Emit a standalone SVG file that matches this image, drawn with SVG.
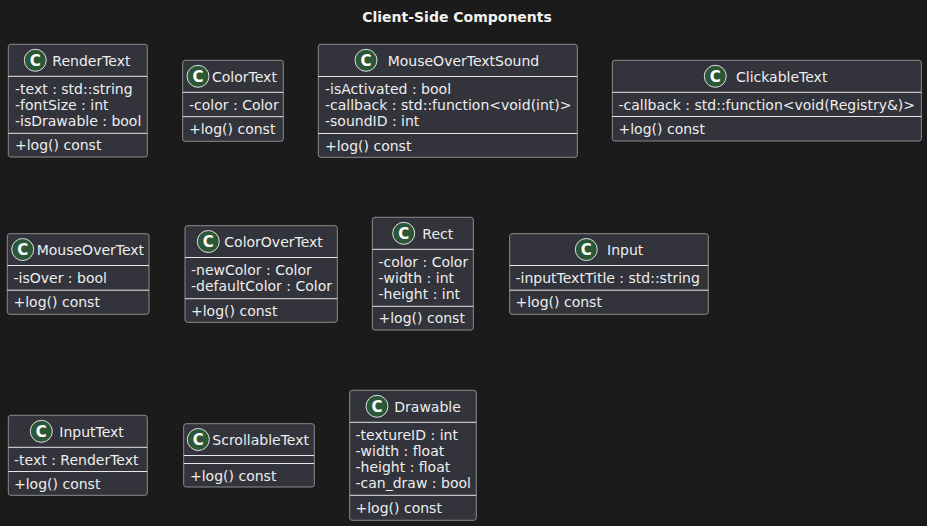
<svg xmlns="http://www.w3.org/2000/svg" width="927" height="526" viewBox="0 0 927 526">
<style>
.bg{fill:#1b1b1b}
.box{fill:#32333b;stroke:#8c8c8c;stroke-width:1}
.sep{stroke:#e8e8e8;stroke-width:1}
.ic{fill:#2b5736;stroke:#e0e0e0;stroke-width:1}
.icl{font-family:"DejaVu Sans","Liberation Sans",sans-serif;font-size:15px;font-weight:bold;fill:#ffffff;text-anchor:middle}
.nm{font-family:"DejaVu Sans","Liberation Sans",sans-serif;font-size:14px;fill:#eeeeee}
.tx{font-family:"DejaVu Sans","Liberation Sans",sans-serif;font-size:14px;fill:#eeeeee}
.ttl{font-family:"DejaVu Sans","Liberation Sans",sans-serif;font-size:14px;font-weight:bold;fill:#f2f2f2;text-anchor:middle}
</style>
<rect class="bg" x="0" y="0" width="927" height="526"/>
<text class="ttl" x="457" y="22.3">Client-Side Components</text>
<g id="connectors"/>

<g id="RenderText">
<rect class="box" x="8.3" y="44.3" width="139" height="112.7" rx="2.5"/>
<line class="sep" x1="8.3" y1="76.3" x2="147.3" y2="76.3"/>
<line class="sep" x1="8.3" y1="133.3" x2="147.3" y2="133.3"/>
<circle class="ic" cx="35.3" cy="60.3" r="11"/><text class="icl" x="35.3" y="65.6">C</text>
<text class="nm" x="52.3" y="65.6">RenderText</text>
<text class="tx" x="15" y="93.5">-text : std::string</text>
<text class="tx" x="15" y="109.8">-fontSize : int</text>
<text class="tx" x="15" y="126.1">-isDrawable : bool</text>
<text class="tx" x="15" y="150.3">+log() const</text>
</g>

<g id="ColorText">
<rect class="box" x="182.7" y="60.3" width="100.6" height="81" rx="2.5"/>
<line class="sep" x1="182.7" y1="92.3" x2="283.3" y2="92.3"/>
<line class="sep" x1="182.7" y1="116.7" x2="283.3" y2="116.7"/>
<circle class="ic" cx="198" cy="76.3" r="11"/><text class="icl" x="198" y="81.6">C</text>
<text class="nm" x="212" y="81.6">ColorText</text>
<text class="tx" x="189" y="109.5">-color : Color</text>
<text class="tx" x="189" y="133.7">+log() const</text>
</g>

<g id="MouseOverTextSound">
<rect class="box" x="318.3" y="44.3" width="259" height="113" rx="2.5"/>
<line class="sep" x1="318.3" y1="76.5" x2="577.3" y2="76.5"/>
<line class="sep" x1="318.3" y1="133.5" x2="577.3" y2="133.5"/>
<circle class="ic" cx="366" cy="60.3" r="11"/><text class="icl" x="366" y="65.6">C</text>
<text class="nm" x="387.7" y="65.6">MouseOverTextSound</text>
<text class="tx" x="325" y="93.7">-isActivated : bool</text>
<text class="tx" x="325" y="110">-callback : std::function&lt;void(int)&gt;</text>
<text class="tx" x="325" y="126.3">-soundID : int</text>
<text class="tx" x="325" y="150.5">+log() const</text>
</g>

<g id="ClickableText">
<rect class="box" x="612.3" y="60.3" width="309" height="80.7" rx="2.5"/>
<line class="sep" x1="612.3" y1="92.3" x2="921.3" y2="92.3"/>
<line class="sep" x1="612.3" y1="116.5" x2="921.3" y2="116.5"/>
<circle class="ic" cx="715.3" cy="76.3" r="11"/><text class="icl" x="715.3" y="81.6">C</text>
<text class="nm" x="736" y="81.6">ClickableText</text>
<text class="tx" x="618.5" y="109.5">-callback : std::function&lt;void(Registry&amp;)&gt;</text>
<text class="tx" x="618.5" y="133.5">+log() const</text>
</g>

<g id="MouseOverText">
<rect class="box" x="7.3" y="233.7" width="141.7" height="80.6" rx="2.5"/>
<line class="sep" x1="7.3" y1="265.5" x2="149" y2="265.5"/>
<line class="sep" x1="7.3" y1="290.2" x2="149" y2="290.2"/>
<circle class="ic" cx="22.7" cy="249.5" r="11"/><text class="icl" x="22.7" y="254.8">C</text>
<text class="nm" x="36.7" y="254.8">MouseOverText</text>
<text class="tx" x="13.5" y="282.7">-isOver : bool</text>
<text class="tx" x="13.5" y="307">+log() const</text>
</g>

<g id="ColorOverText">
<rect class="box" x="185" y="225.7" width="152.3" height="96.6" rx="2.5"/>
<line class="sep" x1="185" y1="257.5" x2="337.3" y2="257.5"/>
<line class="sep" x1="185" y1="298.7" x2="337.3" y2="298.7"/>
<circle class="ic" cx="208.3" cy="241.5" r="11"/><text class="icl" x="208.3" y="246.8">C</text>
<text class="nm" x="224.3" y="246.8">ColorOverText</text>
<text class="tx" x="191" y="274.7">-newColor : Color</text>
<text class="tx" x="191" y="291">-defaultColor : Color</text>
<text class="tx" x="191" y="315.5">+log() const</text>
</g>

<g id="Rect">
<rect class="box" x="372.3" y="217.3" width="101" height="112.7" rx="2.5"/>
<line class="sep" x1="372.3" y1="249.3" x2="473.3" y2="249.3"/>
<line class="sep" x1="372.3" y1="306.3" x2="473.3" y2="306.3"/>
<circle class="ic" cx="403.7" cy="233.3" r="11"/><text class="icl" x="403.7" y="238.6">C</text>
<text class="nm" x="422.3" y="238.6">Rect</text>
<text class="tx" x="378.5" y="266.5">-color : Color</text>
<text class="tx" x="378.5" y="282.8">-width : int</text>
<text class="tx" x="378.5" y="299.1">-height : int</text>
<text class="tx" x="378.5" y="323.3">+log() const</text>
</g>

<g id="Input">
<rect class="box" x="509.7" y="233.7" width="198.6" height="80.6" rx="2.5"/>
<line class="sep" x1="509.7" y1="265.5" x2="708.3" y2="265.5"/>
<line class="sep" x1="509.7" y1="290.2" x2="708.3" y2="290.2"/>
<circle class="ic" cx="586.3" cy="249.5" r="11"/><text class="icl" x="586.3" y="254.8">C</text>
<text class="nm" x="607" y="254.8">Input</text>
<text class="tx" x="515.5" y="282.7">-inputTextTitle : std::string</text>
<text class="tx" x="515.5" y="307">+log() const</text>
</g>

<g id="InputText">
<rect class="box" x="8.3" y="415.3" width="139" height="80" rx="2.5"/>
<line class="sep" x1="8.3" y1="447.3" x2="147.3" y2="447.3"/>
<line class="sep" x1="8.3" y1="471.5" x2="147.3" y2="471.5"/>
<circle class="ic" cx="41.3" cy="431.3" r="11"/><text class="icl" x="41.3" y="436.6">C</text>
<text class="nm" x="59.3" y="436.6">InputText</text>
<text class="tx" x="14" y="464.5">-text : RenderText</text>
<text class="tx" x="14" y="488.5">+log() const</text>
</g>

<g id="ScrollableText">
<rect class="box" x="183.7" y="423.7" width="130.6" height="63.3" rx="2.5"/>
<line class="sep" x1="183.7" y1="455.5" x2="314.3" y2="455.5"/>
<line class="sep" x1="183.7" y1="463.5" x2="314.3" y2="463.5"/>
<circle class="ic" cx="198.3" cy="439.5" r="11"/><text class="icl" x="198.3" y="444.8">C</text>
<text class="nm" x="212.3" y="444.8">ScrollableText</text>
<text class="tx" x="190" y="480.5">+log() const</text>
</g>

<g id="Drawable">
<rect class="box" x="349.7" y="390.3" width="126.6" height="130" rx="2.5"/>
<line class="sep" x1="349.7" y1="422.3" x2="476.3" y2="422.3"/>
<line class="sep" x1="349.7" y1="495.3" x2="476.3" y2="495.3"/>
<circle class="ic" cx="377" cy="406.3" r="11"/><text class="icl" x="377" y="411.6">C</text>
<text class="nm" x="394.3" y="411.6">Drawable</text>
<text class="tx" x="355.5" y="439.5">-textureID : int</text>
<text class="tx" x="355.5" y="455.8">-width : float</text>
<text class="tx" x="355.5" y="472.1">-height : float</text>
<text class="tx" x="355.5" y="488.4">-can_draw : bool</text>
<text class="tx" x="355.5" y="512.5">+log() const</text>
</g>
</svg>
